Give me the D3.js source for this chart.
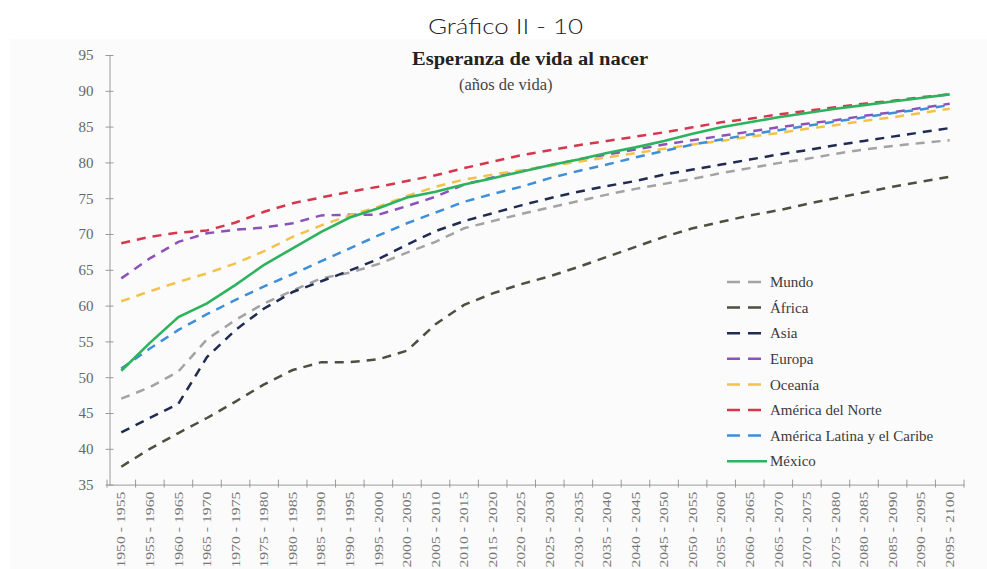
<!DOCTYPE html>
<html>
<head>
<meta charset="utf-8">
<title>Esperanza de vida al nacer</title>
<script src="https://d3js.org/d3.v7.min.js"></script>
<style>
  body { margin: 0; background: #ffffff; }
  svg { display: block; }
</style>
</head>
<body>
<div id="chart"></div>
<script>
// periods on the x axis
var periods = ["1950 - 1955","1955 - 1960","1960 - 1965","1965 - 1970","1970 - 1975","1975 - 1980",
  "1980 - 1985","1985 - 1990","1990 - 1995","1995 - 2000","2000 - 2005","2005 - 2010",
  "2010 - 2015","2015 - 2020","2020 - 2025","2025 - 2030","2030 - 2035","2035 - 2040",
  "2040 - 2045","2045 - 2050","2050 - 2055","2055 - 2060","2060 - 2065","2065 - 2070",
  "2070 - 2075","2075 - 2080","2080 - 2085","2085 - 2090","2090 - 2095","2095 - 2100"];

var yTicks = [35,40,45,50,55,60,65,70,75,80,85,90,95];

// life expectancy values
var mundo = [47.0,48.6,50.8,55.3,58.0,60.3,62.1,63.8,64.6,65.8,67.4,68.9,70.8,71.8,72.8,73.7,74.6,75.5,76.3,77.0,77.7,78.5,79.2,79.9,80.5,81.2,81.8,82.3,82.7,83.1];
var africa = [37.5,40.0,42.2,44.3,46.6,49.0,51.0,52.1,52.1,52.5,53.7,57.4,60.1,61.7,63.0,64.1,65.4,66.8,68.2,69.6,70.8,71.7,72.6,73.3,74.2,75.0,75.8,76.6,77.3,78.0];
var asia = [42.3,44.3,46.3,52.8,56.6,59.6,61.9,63.4,64.9,66.5,68.5,70.4,71.8,72.9,74.0,75.0,75.9,76.7,77.4,78.3,79.0,79.7,80.4,81.1,81.7,82.4,83.0,83.6,84.2,84.8];
var europa = [63.8,66.6,68.9,70.1,70.6,70.9,71.5,72.6,72.7,72.7,73.9,75.2,76.9,77.9,78.8,79.6,80.4,81.1,81.8,82.5,83.1,83.7,84.3,84.9,85.4,85.9,86.5,87.0,87.6,88.2];
var oceania = [60.6,62.0,63.3,64.5,65.9,67.6,69.6,71.2,72.6,73.8,75.3,76.6,77.6,78.3,78.9,79.5,80.1,80.7,81.3,81.9,82.5,83.0,83.6,84.1,84.7,85.2,85.8,86.3,86.9,87.5];
var norte = [68.7,69.6,70.2,70.5,71.6,73.1,74.3,75.1,75.9,76.6,77.4,78.2,79.2,80.1,81.0,81.7,82.4,83.0,83.6,84.2,84.9,85.6,86.1,86.7,87.2,87.7,88.2,88.6,89.1,89.5];
var latina = [51.2,54.0,56.6,58.8,60.8,62.7,64.4,66.2,68.0,69.8,71.5,73.0,74.5,75.6,76.6,77.8,78.8,79.7,80.7,81.6,82.5,83.2,83.9,84.5,85.1,85.7,86.3,86.9,87.4,88.0];
var mexico = [50.9,54.8,58.4,60.3,62.9,65.7,68.0,70.3,72.3,73.6,75.1,75.9,76.9,77.8,78.7,79.6,80.4,81.3,82.1,83.0,84.0,84.9,85.6,86.3,86.9,87.5,88.0,88.5,89.0,89.5];

var seriesNames = ["Mundo","África","Asia","Europa","Oceanía","América del Norte","América Latina y el Caribe","México"];
var seriesValues = [mundo, africa, asia, europa, oceania, norte, latina, mexico];
var seriesColors = ["#a3a3a3","#4f4e40","#1f2b52","#8d52b8","#f3c24a","#d8364c","#3f8fd8","#2bb35e"];

var width = 987, height = 569;
var margin = {top: 55, right: 23, bottom: 84.4, left: 107};

var svg = d3.select("#chart").append("svg")
  .attr("width", width)
  .attr("height", height);

// faint background of the pasted chart
svg.append("rect")
  .attr("x", 10).attr("y", 39)
  .attr("width", width - 10).attr("height", height - 39)
  .attr("fill", "#fbfbfb");

var x = d3.scaleBand()
  .domain(periods)
  .range([margin.left, width - margin.right]);

var y = d3.scaleLinear()
  .domain([35, 95])
  .range([height - margin.bottom, margin.top]);

var serif = "'Liberation Serif', 'DejaVu Serif', serif";

// y axis
var yAxis = svg.append("g")
  .attr("transform", "translate(" + (margin.left + 2.5) + ",0)")
  .call(d3.axisLeft(y).tickValues(yTicks).tickSize(4).tickPadding(12).tickSizeOuter(0));
yAxis.select(".domain").attr("stroke", "#9a9a9a");
yAxis.selectAll(".tick line").attr("x1", -4).attr("x2", 4).attr("stroke", "#9a9a9a");
yAxis.selectAll(".tick text")
  .attr("font-family", serif)
  .attr("font-size", 15)
  .attr("fill", "#666");

// x axis labels
var xAxis = svg.append("g")
  .attr("transform", "translate(0," + y(35) + ")")
  .call(d3.axisBottom(x).tickSize(0).tickSizeOuter(0));
xAxis.select(".domain").attr("stroke", "#9a9a9a");
xAxis.selectAll(".tick text")
  .attr("font-family", serif)
  .attr("font-size", 12)
  .attr("fill", "#777")
  .attr("transform", "rotate(-90)")
  .attr("text-anchor", "end")
  .attr("x", -7)
  .attr("y", 0)
  .attr("dy", "0.35em")
  .attr("textLength", 76)
  .attr("lengthAdjust", "spacingAndGlyphs");

// x ticks sit on the band edges
var edges = periods.map(function(d) { return x(d); }).concat([x.range()[1]]);
svg.append("g").selectAll("line")
  .data(edges)
  .join("line")
  .attr("x1", function(d) { return d; })
  .attr("x2", function(d) { return d; })
  .attr("y1", y(35) - 5)
  .attr("y2", y(35) + 3)
  .attr("stroke", "#9a9a9a");

// lines
var line = d3.line()
  .x(function(d, i) { return x(periods[i]) + x.bandwidth() / 2; })
  .y(function(d) { return y(d); });

svg.append("g").selectAll("path")
  .data(seriesValues)
  .join("path")
  .attr("fill", "none")
  .attr("stroke", function(d, i) { return seriesColors[i]; })
  .attr("stroke-width", function(d, i) { return i == 7 ? 2.6 : 2.5; })
  .attr("stroke-dasharray", function(d, i) { return i == 7 ? null : "9,7"; })
  .attr("d", line);

// legend
var legend = svg.append("g")
  .attr("transform", "translate(727,282)");

var item = legend.selectAll("g")
  .data(seriesNames)
  .join("g")
  .attr("transform", function(d, i) { return "translate(0," + (i * 25.6) + ")"; });

item.append("line")
  .attr("x1", 0).attr("x2", function(d, i) { return i == 7 ? 40 : 35; })
  .attr("y1", 0).attr("y2", 0)
  .attr("stroke", function(d, i) { return seriesColors[i]; })
  .attr("stroke-width", 2.5)
  .attr("stroke-dasharray", function(d, i) { return i == 7 ? null : "13,8"; });

item.append("text")
  .attr("x", 43)
  .attr("dy", "0.35em")
  .attr("font-family", serif)
  .attr("font-size", 15)
  .attr("fill", "#3a3a3a")
  .text(function(d) { return d; });

// titles
svg.append("text")
  .attr("x", 428).attr("y", 34)
  .attr("font-family", "Lato, 'Open Sans', sans-serif")
  .attr("font-weight", 300)
  .attr("font-size", 22)
  .attr("fill", "#222")
  .attr("textLength", 155)
  .attr("lengthAdjust", "spacingAndGlyphs")
  .text("Gráfico II - 10");

svg.append("text")
  .attr("x", 412).attr("y", 65)
  .attr("font-family", serif)
  .attr("font-weight", "bold")
  .attr("font-size", 18)
  .attr("fill", "#222")
  .attr("textLength", 236)
  .attr("lengthAdjust", "spacingAndGlyphs")
  .text("Esperanza de vida al nacer");

svg.append("text")
  .attr("x", 459).attr("y", 90)
  .attr("font-family", serif)
  .attr("font-size", 16.5)
  .attr("fill", "#444")
  .text("(años de vida)");
</script>
</body>
</html>
